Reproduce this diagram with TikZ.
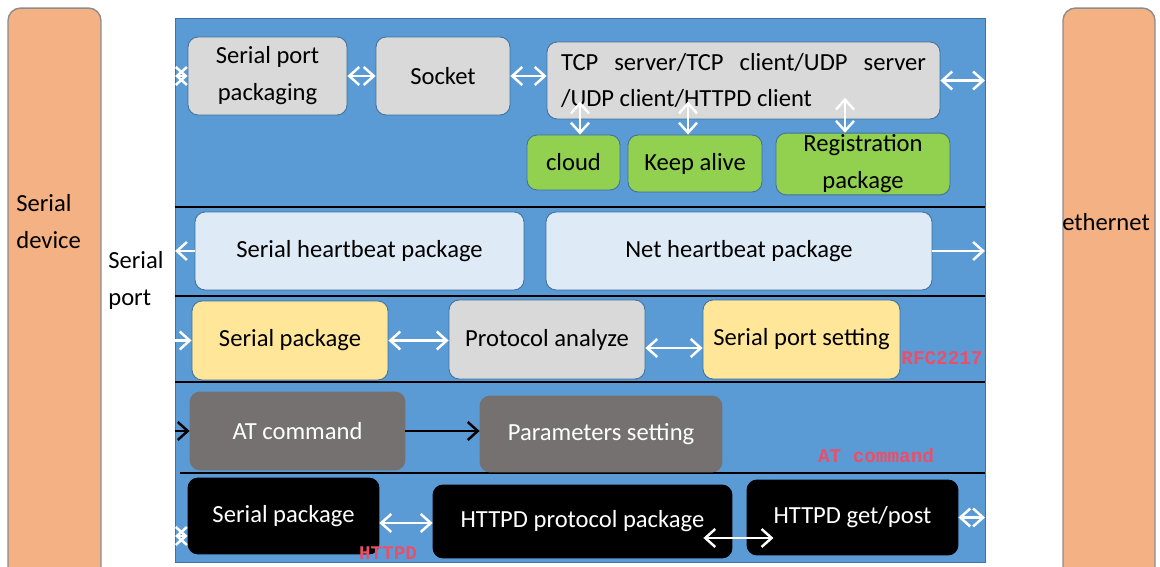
\documentclass[tikz,border=0pt]{standalone}
\usepackage{fontspec}
\setmainfont{Carlito}
\newfontfamily\notefont{Liberation Mono}
\usetikzlibrary{arrows.meta}

\definecolor{coreblue}{HTML}{5B9BD5}
\definecolor{coreline}{HTML}{41719C}
\definecolor{sideorange}{HTML}{F4B183}
\definecolor{sideline}{HTML}{8C8C8C}
\definecolor{boxgrey}{HTML}{D9D9D9}
\definecolor{boxlight}{HTML}{DEEBF7}
\definecolor{boxyellow}{HTML}{FFE699}
\definecolor{boxgreen}{HTML}{92D050}
\definecolor{boxdark}{HTML}{767171}
\definecolor{notered}{HTML}{E8506A}

\begin{document}
\begin{tikzpicture}[x=0.02cm,y=-0.02cm,
    every node/.style={font=\fontsize{14}{21}\selectfont},
    blk/.style={rounded corners=0.2cm,draw=coreline,line width=0.5pt,align=center,inner sep=1pt},
    sz/.style 2 args={minimum width=#1cm,minimum height=#2cm},
    side/.style={rounded corners=0.25cm,draw=sideline,fill=sideorange,line width=0.8pt},
    note/.style={font=\notefont\bfseries\fontsize{11}{12}\selectfont,text=notered,inner sep=0pt},
    sep/.style={black,line width=1.6pt},
    >={Straight Barb[length=2mm,width=3.6mm]},
    warr/.style={white,line width=1.4pt},
    barr/.style={black,line width=1.4pt}]
    \useasboundingbox (0,0) rectangle (1160,567);
    \clip (0,0) rectangle (1160,567);
    % devices on both sides
    \node[side,sz={1.86}{11.84}] (dev) at (54.5,304) {};
    \node[side,sz={1.84}{11.84}] (eth) at (1109,304) {};
    \node[anchor=west,align=left,inner sep=0pt] (devtxt) at (16,221.5) {Serial\\device};
    \node[anchor=west,inner sep=0pt] (ethtxt) at (1062,222) {ethernet};
    \node[anchor=west,align=left,inner sep=0pt] (porttxt) at (108,280) {Serial\\port};
    % module
    \node[fill=coreblue,draw=coreline,sz={16.2}{10.88},inner sep=0pt,outer sep=0pt] (core) at (580,290) {};
    \foreach \y in {207,296,382}
        \draw[sep] (175,\y) -- (985,\y);
    \draw[sep] (180,473) -- (985,473);
    % socket layer
    \node[blk,fill=boxgrey,sz={3.18}{1.56}] (sppack) at (267.5,76) {Serial port\\packaging};
    \node[blk,fill=boxgrey,sz={2.68}{1.56}] (socket) at (443,76) {Socket};
    \node[blk,fill=boxgrey,sz={7.86}{1.54},align=left] (tcp) at (743.5,80.5)
        {\makebox[7.3cm][s]{TCP server/TCP client/UDP server}\\/UDP client/HTTPD client};
    \node[blk,fill=boxgreen,sz={1.86}{1.1}] (cloud) at (573.5,162.5) {cloud};
    \node[blk,fill=boxgreen,sz={2.68}{1.14}] (keep) at (695,163.5) {Keep alive};
    \node[blk,fill=boxgreen,sz={3.48}{1.16}] (reg) at (863,164) {Registration\\package};
    % heartbeat layer
    \node[blk,fill=boxlight,sz={6.58}{1.56}] (shb) at (359.5,251) {Serial heartbeat package};
    \node[blk,fill=boxlight,sz={7.72}{1.56}] (nhb) at (739,251) {Net heartbeat package};
    % rfc2217 layer
    \node[blk,fill=boxyellow,sz={3.92}{1.58}] (spk) at (290,340.5) {Serial package};
    \node[blk,fill=boxgrey,sz={3.92}{1.58}] (pa) at (547,339.5) {Protocol analyze};
    \node[blk,fill=boxyellow,sz={3.94}{1.58}] (sps) at (801.5,339.5) {Serial port setting};
    \node[note] (rfc) at (942,358) {RFC2217};
    % at command layer
    \node[blk,fill=boxdark,draw=boxdark,text=white,sz={4.3}{1.56}] (atc) at (297.5,431) {AT command};
    \node[blk,fill=boxdark,draw=boxdark,text=white,sz={4.84}{1.52}] (par) at (601,434) {Parameters setting};
    \node[note] (atnote) at (876,456) {AT command};
    % httpd layer
    \node[blk,fill=black,draw=black,text=white,sz={3.82}{1.52}] (hsp) at (283.5,516) {Serial package};
    \node[blk,fill=black,draw=black,text=white,sz={5.98}{1.46}] (hpp) at (582.5,521.5) {HTTPD protocol package};
    \node[blk,fill=black,draw=black,text=white,sz={4.22}{1.5}] (hgp) at (852.5,517.5) {HTTPD get/post};
    \node[note] (httpdnote) at (388,553) {HTTPD};
    % arrows
    \draw[warr,<->] (core.west |- sppack) -- (sppack.west);
    \draw[warr,<->] (sppack) -- (socket);
    \draw[warr,<->] (socket) -- (socket -| tcp.west);
    \draw[warr,<->] (tcp.east) -- (core.east |- tcp);
    \draw[warr,<->] ([xshift=0.13cm]cloud.north) -- ++(0,-33);
    \draw[warr,<->] ([xshift=-0.14cm]keep.north) -- ++(0,-33);
    \draw[warr,<->] ([xshift=-0.36cm]reg.north) -- ++(0,-35);
    \draw[warr,->] (shb.west) -- (core.west |- shb);
    \draw[warr,->] (nhb.east) -- (core.east |- nhb);
    \draw[warr,->] (core.west |- spk) -- (spk.west);
    \draw[warr,<->] (spk) -- (spk -| pa.west);
    \draw[warr,<->] ([yshift=-0.17cm]pa.east) -- ([yshift=-0.17cm]pa.east -| sps.west);
    \draw[barr,->] (core.west |- atc) -- (atc.west);
    \draw[barr,->] (atc) -- (atc -| par.west);
    \draw[warr,<->] ([yshift=-0.4cm]core.west |- hsp) -- ([yshift=-0.4cm]hsp.west);
    \draw[warr,<->] ([yshift=-0.14cm]hsp.east) -- ([yshift=-0.14cm]hsp.east -| hpp.west);
    \draw[warr,<->] ([xshift=-0.58cm,yshift=-0.33cm]hpp.east) -- ++(70,0);
    \draw[warr,<->] (hgp.east) -- (core.east |- hgp);
\end{tikzpicture}
\end{document}
